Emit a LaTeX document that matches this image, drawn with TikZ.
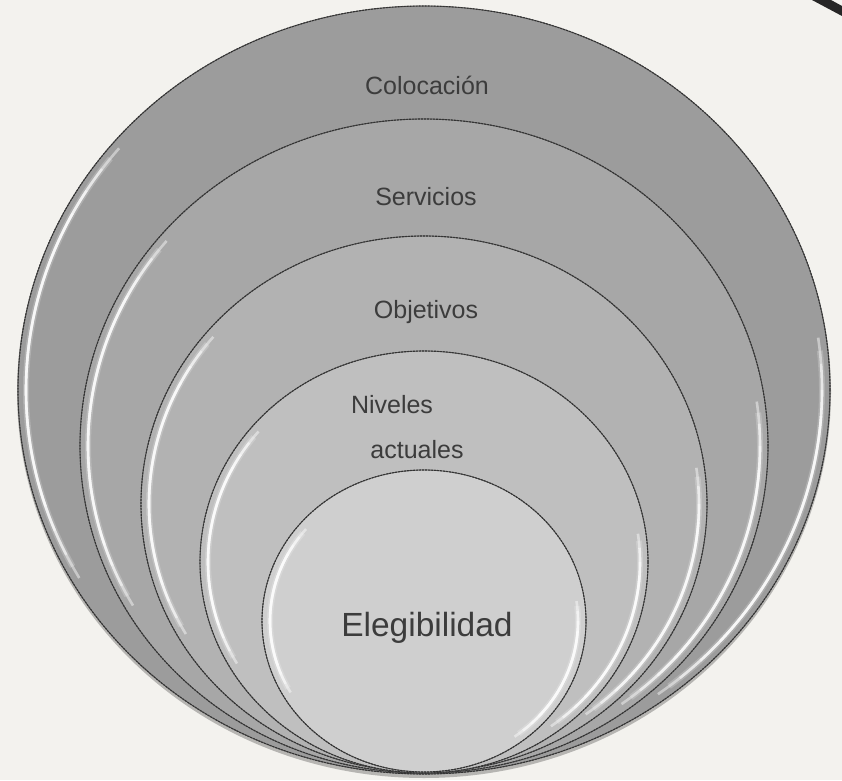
\documentclass[tikz,border=0pt]{standalone}
\usepackage{fontspec}
\setmainfont{Liberation Sans}
\definecolor{bg}{HTML}{F3F2EE}
\definecolor{txt}{HTML}{3C3C3C}
\definecolor{cA}{HTML}{9C9C9C}
\definecolor{cB}{HTML}{A7A7A7}
\definecolor{cC}{HTML}{B2B2B2}
\definecolor{cD}{HTML}{BFBFBF}
\definecolor{cE}{HTML}{CFCFCF}
\definecolor{rimc}{HTML}{333333}
\tikzset{
  lbl/.style={font=\fontsize{25}{28}\selectfont, text=txt, inner sep=0pt},
  biglbl/.style={font=\fontsize{33.5}{38}\selectfont, text=txt, inner sep=0pt},
  hlsoft/.style={draw=white, line width=6pt, opacity=0.2, line cap=butt},
  hlhard/.style={draw=white, line width=2.6pt, opacity=0.45, line cap=butt},
  rimunder/.style={draw=gray!60!black, line width=0.8pt},
  rimdash/.style={draw=rimc, line width=1.1pt, dash pattern=on 2pt off 1pt},
}
\begin{document}
\begin{tikzpicture}[x=1pt,y=1pt]
\useasboundingbox (0,0) rectangle (842,780);
\fill[bg] (0,0) rectangle (842,780);
% small dark mark at the top right corner
\fill[black!85] (812,780) -- (831,780) -- (842,774) -- (842,764) -- cycle;
% shadow under the stack
\fill[black, opacity=0.25] (424,388) ellipse [x radius=407pt, y radius=386pt];
\foreach \cy/\rx/\ry/\col in {390/406/384/cA, 334/344/327/cB, 276/283/268/cC, 218/224/211/cD, 159/162/151/cE}{
  \pgfmathsetmacro{\ax}{\rx-8}
  \pgfmathsetmacro{\ay}{\ry-8}
  \fill[\col] (424,\cy) ellipse [x radius=\rx pt, y radius=\ry pt];
  \draw[hlsoft] (424,\cy) ++(142:\ax pt and \ay pt) arc[start angle=142, end angle=208, x radius=\ax pt, y radius=\ay pt];
  \draw[hlsoft] (424,\cy) ++(6:\ax pt and \ay pt) arc[start angle=6, end angle=-52, x radius=\ax pt, y radius=\ay pt];
  \foreach \k in {0,4,8,12}{
    \pgfmathsetmacro{\la}{140+\k}
    \pgfmathsetmacro{\lb}{210-\k}
    \pgfmathsetmacro{\ra}{8-\k}
    \pgfmathsetmacro{\rb}{-54+\k}
    \draw[hlhard] (424,\cy) ++(\la:\ax pt and \ay pt) arc[start angle=\la, end angle=\lb, x radius=\ax pt, y radius=\ay pt];
    \draw[hlhard] (424,\cy) ++(\ra:\ax pt and \ay pt) arc[start angle=\ra, end angle=\rb, x radius=\ax pt, y radius=\ay pt];
  }
  \draw[rimunder] (424,\cy) ellipse [x radius=\rx pt, y radius=\ry pt];
  \draw[rimdash] (424,\cy) ellipse [x radius=\rx pt, y radius=\ry pt];
}
\node[lbl] (colocacion) at (427,695) {Colocación};
\node[lbl] (servicios) at (426,583) {Servicios};
\node[lbl] (objetivos) at (426,468) {Objetivos};
\node[lbl] (niveles) at (392,375) {Niveles};
\node[lbl] (actuales) at (417,330) {actuales};
\node[biglbl] (elegibilidad) at (427,152) {Elegibilidad};
\end{tikzpicture}
\end{document}
